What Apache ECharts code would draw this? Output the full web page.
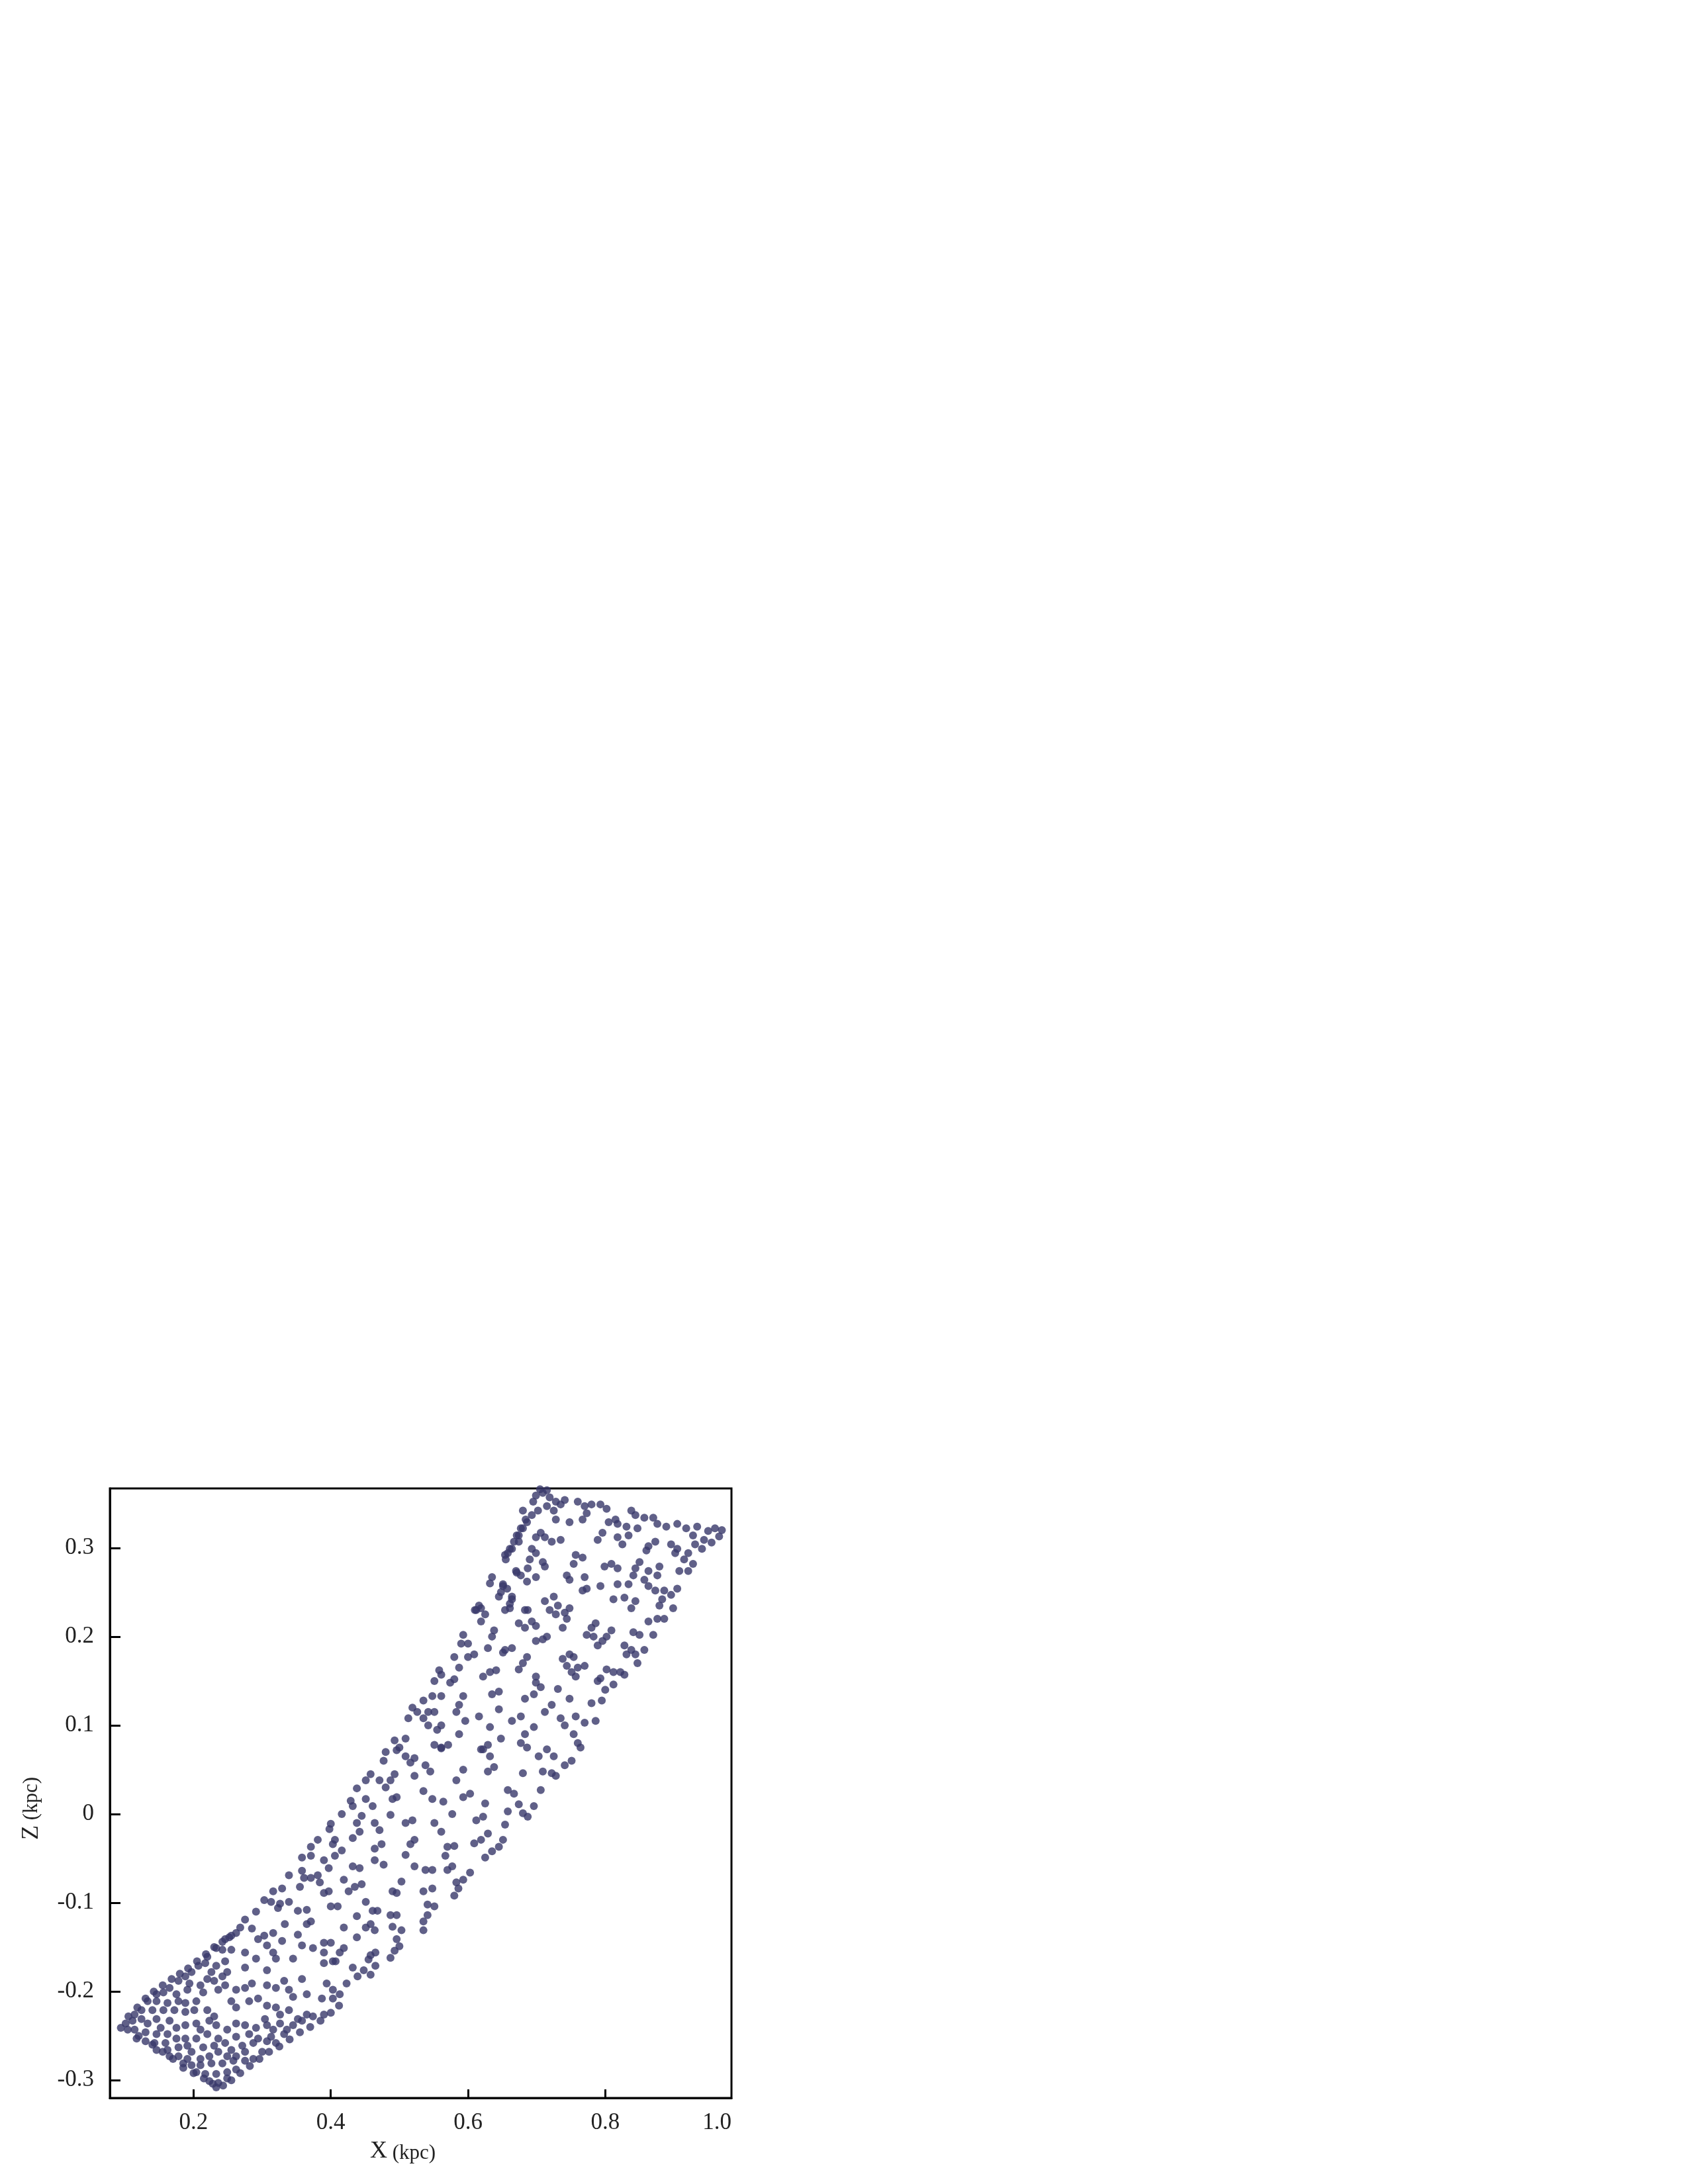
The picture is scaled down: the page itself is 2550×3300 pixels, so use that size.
<!DOCTYPE html>
<html>
<head>
<meta charset="utf-8">
<script src="https://cdn.jsdelivr.net/npm/echarts@6/dist/echarts.min.js"></script>
<style>
  html, body { margin: 0; padding: 0; background: #fff; }
  #main { width: 2550px; height: 3300px; }
</style>
</head>
<body>
<div id="main"></div>
<script>
// axis ranges and ticks
var X_MIN = 0.078, X_MAX = 0.984;
var Z_MIN = -0.32, Z_MAX = 0.367;
var xTicks = [0.2, 0.4, 0.6, 0.8, 1.0];
var zTicks = [-0.3, -0.2, -0.1, 0, 0.1, 0.2, 0.3];

// lower part of the band (X < 0.42)
var lowerBand = [
  [.275,-.119],[.285,-.129],[.262,-.134],[.246,-.141],[.252,-.139],[.233,-.151],[.220,-.161],[.242,-.153],[.255,-.153],[.275,-.156],
  [.291,-.163],[.320,-.163],[.345,-.163],[.275,-.173],[.307,-.176],[.246,-.166],[.233,-.171],[.249,-.178],[.226,-.178],[.207,-.171],
  [.217,-.168],[.197,-.178],[.358,-.148],[.390,-.168],[.403,-.166],[.413,-.156],[.374,-.151],[.390,-.156],[.316,-.156],[.307,-.148],
  [.188,-.183],[.178,-.188],[.194,-.191],[.210,-.193],[.220,-.186],[.230,-.188],[.242,-.183],[.246,-.193],[.236,-.198],[.214,-.201],
  [.191,-.198],[.165,-.196],[.156,-.201],[.146,-.203],[.175,-.203],[.262,-.198],[.275,-.196],[.285,-.191],[.307,-.193],[.320,-.196],
  [.332,-.188],[.339,-.198],[.345,-.206],[.365,-.203],[.358,-.186],[.394,-.191],[.403,-.198],[.403,-.208],[.413,-.203],[.387,-.208],
  [.133,-.211],[.146,-.211],[.162,-.213],[.178,-.211],[.188,-.213],[.204,-.211],[.201,-.221],[.188,-.223],[.172,-.221],[.156,-.221],
  [.140,-.221],[.124,-.221],[.114,-.226],[.220,-.221],[.230,-.228],[.255,-.211],[.262,-.218],[.281,-.211],[.294,-.208],[.307,-.216],
  [.320,-.218],[.339,-.221],[.326,-.226],[.352,-.231],[.365,-.226],[.374,-.228],[.390,-.226],
  [.101,-.236],[.111,-.233],[.124,-.231],[.133,-.236],[.146,-.231],[.152,-.241],[.165,-.233],[.175,-.241],[.162,-.248],[.146,-.248],
  [.130,-.246],[.114,-.243],[.104,-.243],[.094,-.241],[.188,-.238],[.204,-.236],[.210,-.243],[.223,-.233],[.233,-.238],[.249,-.243],
  [.262,-.236],[.275,-.238],[.291,-.241],[.304,-.231],[.307,-.238],[.316,-.243],[.326,-.236],[.336,-.243],[.345,-.238],[.358,-.233],
  [.188,-.253],[.175,-.253],[.204,-.253],[.220,-.248],[.236,-.253],[.262,-.251],[.281,-.248],[.294,-.253],[.313,-.251],[.332,-.248],
  [.117,-.253],[.130,-.256],[.143,-.258],[.159,-.258],[.146,-.266],[.162,-.266],[.178,-.263],[.191,-.261],[.197,-.268],[.214,-.263],
  [.230,-.261],[.246,-.258],[.255,-.266],[.271,-.261],[.287,-.258],[.307,-.256],[.320,-.258],[.275,-.268],[.262,-.273],[.249,-.273],
  [.236,-.268],[.223,-.273],[.210,-.276],[.191,-.276],[.178,-.273],[.165,-.273],
  [.185,-.281],[.197,-.283],[.210,-.283],[.226,-.281],[.242,-.281],[.258,-.278],[.275,-.278],[.287,-.276],[.300,-.268],[.204,-.291],
  [.217,-.293],[.233,-.293],[.249,-.291],[.262,-.288],[.223,-.301],[.236,-.303],[.249,-.298],[.233,-.308]
];

// the crowded outer edges of the lower corner
var lowerEdges = [
  [.105,-.228],[.118,-.218],[.130,-.208],[.142,-.200],[.155,-.193],[.168,-.186],[.180,-.180],[.192,-.174],[.205,-.166],[.218,-.158],
  [.230,-.150],[.242,-.144],[.255,-.137],[.268,-.128],
  [.120,-.250],[.140,-.260],[.155,-.268],[.170,-.276],[.185,-.286],[.200,-.292],[.215,-.298],[.228,-.304],[.243,-.306],[.255,-.300],
  [.268,-.292],[.282,-.284],[.296,-.276],[.310,-.268],[.325,-.262],[.340,-.254],[.355,-.246],[.370,-.240],[.385,-.233],[.400,-.224],
  [.412,-.216],
  [.493,-.154],[.500,-.149],[.458,-.159],[.465,-.156],[.455,-.164],[.432,-.173],[.448,-.176],[.458,-.181],[.465,-.171],[.439,-.183],
  [.423,-.191],[.407,-.166],[.419,-.151],[.487,-.162]
];

// middle of the band (Z from -0.15 to 0.08)
var middleBand = [
  [.480,.070],[.496,.072],[.509,.065],[.522,.063],[.516,.058],[.477,.060],[.561,.074],[.619,.073],[.538,.055],[.545,.048],
  [.522,.043],[.593,.050],[.583,.038],[.458,.045],[.471,.038],[.487,.038],[.493,.045],[.451,.038],[.480,.030],[.438,.029],
  [.535,.026],[.603,.023],[.593,.019],[.490,.017],[.496,.019],[.429,.015],[.432,.009],[.451,.017],[.461,.009],[.548,.017],
  [.564,.014],[.416,.000],[.487,-.001],[.577,.000],[.445,-.002],[.438,-.010],[.464,-.010],[.509,-.010],[.519,-.007],[.551,-.010],
  [.561,-.020],[.612,-.007],[.400,-.011],[.398,-.017],[.471,-.018],[.432,-.027],[.442,-.020],[.522,-.029],[.516,-.034],[.474,-.034],
  [.464,-.039],[.570,-.037],[.580,-.036],[.609,-.033],[.381,-.029],[.406,-.029],[.403,-.034],[.416,-.041],[.371,-.037],[.358,-.049],
  [.371,-.047],[.390,-.052],[.397,-.061],[.406,-.047],[.509,-.046],[.567,-.047],[.432,-.059],[.442,-.061],[.464,-.052],[.477,-.057],
  [.522,-.059],[.538,-.063],[.548,-.063],[.570,-.063],[.577,-.059],[.339,-.069],[.358,-.064],[.361,-.072],[.371,-.072],[.381,-.069],
  [.384,-.077],[.355,-.082],[.419,-.074],[.435,-.082],[.445,-.079],[.426,-.087],[.503,-.076],[.490,-.087],[.496,-.089],[.535,-.087],
  [.548,-.084],[.583,-.077],[.593,-.074],[.603,-.066],[.586,-.084],[.580,-.092],[.316,-.087],[.329,-.084],[.390,-.089],[.397,-.087],
  [.303,-.097],[.313,-.099],[.326,-.101],[.339,-.099],[.323,-.106],[.352,-.109],[.365,-.108],[.400,-.104],[.410,-.104],[.451,-.099],
  [.461,-.109],[.468,-.109],[.541,-.102],[.551,-.104],[.487,-.114],[.496,-.114],[.291,-.110],[.333,-.124],[.365,-.124],[.371,-.121],
  [.438,-.115],[.541,-.114],[.535,-.121],[.458,-.124],[.464,-.131],[.451,-.128],[.419,-.128],[.490,-.127],[.503,-.131],[.535,-.131],
  [.316,-.134],[.303,-.137],[.294,-.141],[.352,-.136],[.438,-.139],[.496,-.141],[.329,-.143],[.390,-.145],[.400,-.145],
  [.625,.012],[.622,-.003],[.629,-.022],[.619,-.029],[.658,.027],[.667,.023],[.674,.011],[.680,.001],[.687,-.003],[.696,.009],
  [.706,.027],[.658,.003],[.654,-.012],[.651,-.029],[.645,-.037],[.635,-.042],[.625,-.049]
];

// upper middle of the band (Z from 0.04 to 0.24)
var upperMiddle = [
  [.612,.230],[.619,.232],[.625,.225],[.619,.217],[.638,.207],[.635,.200],[.593,.202],[.590,.192],[.600,.192],[.629,.187],
  [.651,.182],[.580,.177],[.600,.177],[.609,.180],[.587,.165],[.558,.162],[.561,.157],[.632,.160],[.622,.155],[.641,.162],
  [.789,.150],[.551,.150],[.574,.148],[.580,.152],[.699,.148],[.706,.143],[.731,.141],[.535,.128],[.548,.133],[.561,.133],
  [.593,.133],[.587,.123],[.583,.115],[.635,.135],[.645,.138],[.645,.118],[.683,.130],[.696,.135],[.748,.130],[.780,.125],
  [.722,.123],[.712,.115],[.519,.120],[.513,.108],[.526,.115],[.542,.115],[.551,.115],[.535,.108],[.542,.100],[.555,.095],
  [.561,.100],[.596,.105],[.616,.110],[.632,.098],[.664,.105],[.677,.110],[.696,.098],[.735,.108],[.741,.100],[.757,.110],
  [.770,.103],[.786,.105],[.587,.090],[.648,.085],[.683,.090],[.754,.090],[.493,.083],[.509,.085],[.500,.075],[.551,.078],
  [.561,.075],[.571,.078],[.629,.078],[.622,.073],[.677,.080],[.686,.075],[.760,.080],[.764,.075],[.715,.073],[.703,.065],
  [.725,.065],[.632,.065],[.638,.053],[.629,.048],[.680,.046],[.709,.048],[.722,.046],[.728,.043],[.741,.055],[.751,.060],
  [.800,.140],[.812,.146],[.795,.128],
  [.680,.342],[.684,.332],[.677,.322],[.671,.314],[.674,.307],[.664,.299],[.658,.294],[.655,.287],[.671,.272],[.687,.277],
  [.635,.267],[.632,.260],[.651,.257],[.648,.250],[.645,.245],[.664,.242],[.661,.232],[.616,.235],[.610,.230],[.687,.230]
];

// upper part of the band (Z above 0.15)
var upperBand = [
  [.699,.359],[.709,.362],[.719,.357],[.728,.352],[.715,.347],[.702,.342],[.693,.337],[.686,.329],[.680,.322],[.674,.314],
  [.667,.307],[.661,.299],[.654,.292],[.735,.349],[.741,.354],[.760,.352],[.770,.347],[.780,.349],[.793,.349],[.802,.344],
  [.773,.339],[.767,.332],[.748,.329],[.728,.332],[.725,.342],[.805,.329],[.815,.332],[.818,.327],[.838,.342],[.844,.337],
  [.857,.334],[.870,.334],[.876,.327],[.831,.324],[.847,.322],[.796,.317],[.789,.309],[.818,.312],[.825,.304],[.834,.314],
  [.889,.324],[.905,.327],[.918,.322],[.928,.314],[.934,.324],[.950,.319],[.960,.322],[.944,.309],[.931,.304],[.941,.299],
  [.921,.294],[.896,.304],[.905,.299],[.902,.294],[.863,.302],[.860,.297],[.873,.307],[.706,.317],[.712,.312],[.722,.307],
  [.735,.309],[.699,.312],[.693,.299],[.699,.294],[.690,.287],[.709,.284],[.712,.279],[.757,.292],[.767,.289],[.754,.282],
  [.799,.279],[.809,.282],[.818,.277],[.850,.284],[.844,.277],[.841,.269],[.863,.274],[.879,.279],[.876,.269],[.915,.287],
  [.908,.274],[.921,.274],[.928,.282],[.670,.274],[.677,.269],[.686,.262],[.699,.267],[.651,.259],[.657,.254],[.744,.269],
  [.748,.264],[.770,.267],[.767,.252],[.773,.254],[.793,.257],[.818,.259],[.834,.259],[.857,.264],[.863,.257],[.873,.252],
  [.812,.242],[.828,.244],[.844,.240],[.838,.232],[.883,.242],[.896,.247],[.905,.254],[.899,.232],[.879,.235],[.886,.252],
  [.664,.245],[.661,.237],[.654,.230],[.683,.230],[.712,.240],[.725,.245],[.731,.235],[.719,.230],[.728,.225],[.741,.227],
  [.748,.232],[.744,.220],[.863,.217],[.876,.220],[.886,.220],[.841,.205],[.850,.202],[.870,.202],[.786,.215],[.780,.210],
  [.773,.202],[.783,.200],[.674,.215],[.683,.210],[.693,.217],[.699,.212],[.738,.210],[.709,.197],[.715,.200],[.699,.195],
  [.809,.207],[.802,.200],[.796,.195],[.789,.190],[.828,.190],[.838,.185],[.844,.180],[.847,.170],[.831,.180],[.857,.185],
  [.654,.185],[.664,.187],[.686,.177],[.680,.170],[.674,.163],[.699,.155],[.738,.175],[.748,.180],[.754,.177],[.744,.167],
  [.770,.167],[.760,.165],[.751,.160],[.757,.155],[.802,.163],[.812,.160],[.822,.160],[.828,.157],[.793,.153],
  [.705,.366],[.715,.365],[.695,.352],[.970,.320],[.966,.313],[.955,.306]
];

var points = lowerBand.concat(lowerEdges, middleBand, upperMiddle, upperBand);

var serif = '"Liberation Serif", "DejaVu Serif", serif';
var myChart = echarts.init(document.getElementById('main'));

var option = {
    backgroundColor: '#ffffff',
    animation: false,
    grid: {
        left: 166, right: 1445, top: 2249, bottom: 130,
        show: true, borderColor: '#000', borderWidth: 3
    },
    xAxis: {
        type: 'value',
        min: X_MIN, max: X_MAX,
        name: '{a|X}{b| (kpc)}',
        nameLocation: 'middle',
        nameGap: 62,
        nameTextStyle: {
            padding: [0, 54, 0, 0],
            rich: {
                a: { fontFamily: serif, fontSize: 36, color: '#222' },
                b: { fontFamily: serif, fontSize: 31, color: '#222', padding: [6, 0, 0, 0] }
            }
        },
        axisLine: { onZero: false, lineStyle: { color: '#000', width: 3 } },
        axisTick: {
            inside: true, length: 13,
            lineStyle: { color: '#000', width: 3 },
            customValues: xTicks.filter(function (v) { return v < X_MAX; })
        },
        axisLabel: {
            margin: 20,
            fontFamily: serif, fontSize: 35, color: '#222',
            customValues: xTicks.map(function (v) { return Math.min(v, X_MAX); }),
            alignMaxLabel: 'right',
            formatter: function (v) { return (v >= X_MAX ? 1.0 : v).toFixed(1); }
        },
        splitLine: { show: false }
    },
    yAxis: {
        type: 'value',
        min: Z_MIN, max: Z_MAX,
        name: '{a|Z}{b| (kpc)}',
        nameLocation: 'middle',
        nameGap: 100,
        nameTextStyle: {
            padding: [0, 46, 0, 0],
            rich: {
                a: { fontFamily: serif, fontSize: 36, color: '#222' },
                b: { fontFamily: serif, fontSize: 31, color: '#222' }
            }
        },
        axisLine: { onZero: false, lineStyle: { color: '#000', width: 3 } },
        axisTick: {
            inside: true, length: 16,
            lineStyle: { color: '#000', width: 3 },
            customValues: zTicks
        },
        axisLabel: {
            margin: 24,
            fontFamily: serif, fontSize: 35, color: '#222',
            customValues: zTicks,
            formatter: function (v) { return v === 0 ? '0' : v.toFixed(1); }
        },
        splitLine: { show: false }
    },
    series: [{
        type: 'scatter',
        data: points,
        symbol: 'circle',
        symbolSize: 12,
        itemStyle: { color: '#38386a' }
    }]
};
myChart.setOption(option);
</script>
</body>
</html>
